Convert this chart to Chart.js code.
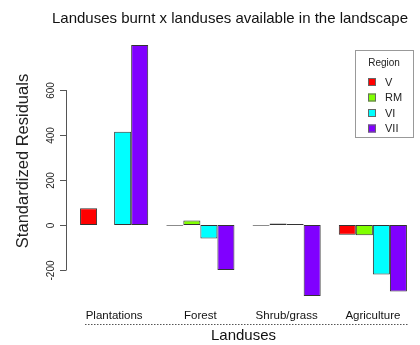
<!DOCTYPE html>
<html>
<head>
<meta charset="utf-8">
<script src="https://cdn.jsdelivr.net/npm/chart.js@4"></script>
<style>
  html, body { margin: 0; padding: 0; background: #ffffff; }
  #wrap { width: 420px; height: 345px; }
</style>
</head>
<body>
<div id="wrap"><canvas id="c" width="420" height="345"></canvas></div>
<script>
// Standardized residuals of land uses burnt vs. available, by region
const categories = ['Plantations', 'Forest', 'Shrub/grass', 'Agriculture'];
const regions = ['V', 'RM', 'VI', 'VII'];
const residV   = [75, -3, -3, -43];
const residRM  = [0, 20, 7, -45];
const residVI  = [415, -60, 5, -220];
const residVII = [800, -200, -315, -295];
const yTicks = [-200, 0, 200, 400, 600];
const regionColors = ['#FF0000', '#80FF00', '#00FFFF', '#8000FF'];

const FONT = '"Liberation Sans", Arial, sans-serif';
const TITLE = 'Landuses burnt x landuses available in the landscape';
const seriesValues = [residV, residRM, residVI, residVII];

// Main title, R-style left axis, dotted rule under the category labels, boxed legend
const decorations = {
  id: 'decorations',
  afterDraw(chart) {
    const ctx = chart.ctx;
    const y = chart.scales.y;
    const area = chart.chartArea;
    const axisX = area.left - 5;
    ctx.save();

    // main title
    ctx.fillStyle = '#111';
    ctx.font = '15px ' + FONT;
    ctx.textAlign = 'center';
    ctx.textBaseline = 'middle';
    ctx.fillText(TITLE, 230, 19);

    // axis line spanning the tick range only
    ctx.strokeStyle = '#555';
    ctx.lineWidth = 1;
    ctx.beginPath();
    ctx.moveTo(axisX + 0.5, y.getPixelForValue(yTicks[yTicks.length - 1]));
    ctx.lineTo(axisX + 0.5, y.getPixelForValue(yTicks[0]));
    ctx.stroke();

    // tick marks and rotated tick labels
    ctx.fillStyle = '#222';
    ctx.font = '10px ' + FONT;
    y.ticks.forEach(t => {
      const py = Math.round(y.getPixelForValue(t.value)) + 0.5;
      ctx.beginPath();
      ctx.moveTo(axisX - 6, py);
      ctx.lineTo(axisX + 0.5, py);
      ctx.stroke();
      ctx.save();
      ctx.translate(axisX - 15, py);
      ctx.rotate(-Math.PI / 2);
      ctx.fillText(String(t.value), 0, 0);
      ctx.restore();
    });

    // y axis title
    ctx.save();
    ctx.font = '16.5px ' + FONT;
    ctx.fillStyle = '#222';
    ctx.translate(23, 161);
    ctx.rotate(-Math.PI / 2);
    ctx.fillText('Standardized Residuals', 0, 0);
    ctx.restore();

    // dotted rule between category labels and axis title
    ctx.strokeStyle = '#555';
    ctx.setLineDash([1.5, 1.5]);
    ctx.beginPath();
    ctx.moveTo(85, 324.5);
    ctx.lineTo(409, 324.5);
    ctx.stroke();
    ctx.setLineDash([]);

    // legend box
    const lx = 355, ly = 50, lw = 58, lh = 87;
    ctx.strokeStyle = '#999';
    ctx.strokeRect(lx + 0.5, ly + 0.5, lw, lh);
    ctx.fillStyle = '#222';
    ctx.font = '10px ' + FONT;
    ctx.textAlign = 'center';
    ctx.fillText('Region', lx + lw / 2, 63);
    ctx.textAlign = 'left';
    ctx.font = '11px ' + FONT;
    chart.data.datasets.forEach((ds, i) => {
      const iy = 82 + i * 15.5;
      ctx.fillStyle = ds.backgroundColor;
      ctx.fillRect(368, iy - 4, 8, 8);
      ctx.strokeStyle = '#666';
      ctx.strokeRect(368.5, iy - 3.5, 7, 7);
      ctx.fillStyle = '#222';
      ctx.fillText(ds.label, 385, iy + 0.5);
    });
    ctx.restore();
  }
};

new Chart(document.getElementById('c'), {
  type: 'bar',
  data: {
    labels: categories,
    datasets: regions.map((r, i) => ({
      label: r,
      data: seriesValues[i],
      backgroundColor: regionColors[i],
      borderColor: '#333',
      borderWidth: 1,
      borderSkipped: false,
      barPercentage: 1.0,
      categoryPercentage: 0.79
    }))
  },
  options: {
    responsive: false,
    animation: false,
    devicePixelRatio: 1,
    layout: { padding: { top: 35, right: 4, left: 0, bottom: 0 } },
    plugins: {
      legend: { display: false },
      tooltip: { enabled: false },
      title: { display: false }
    },
    scales: {
      x: {
        grid: { display: false },
        border: { display: false },
        ticks: {
          font: { family: FONT, size: 11.5 },
          color: '#111',
          padding: -5,
          maxRotation: 0,
          autoSkip: false
        },
        title: {
          display: true,
          text: 'Landuses',
          font: { family: FONT, size: 15 },
          color: '#111',
          padding: { top: 5, bottom: 0 }
        },
        afterFit: s => { s.height = 39; }
      },
      y: {
        min: -360,
        max: 845,
        grid: { display: false },
        border: { display: false },
        ticks: { display: false },
        afterBuildTicks: s => { s.ticks = yTicks.map(v => ({ value: v })); },
        afterFit: s => { s.width = 71; }
      }
    }
  },
  plugins: [decorations]
});
</script>
</body>
</html>
